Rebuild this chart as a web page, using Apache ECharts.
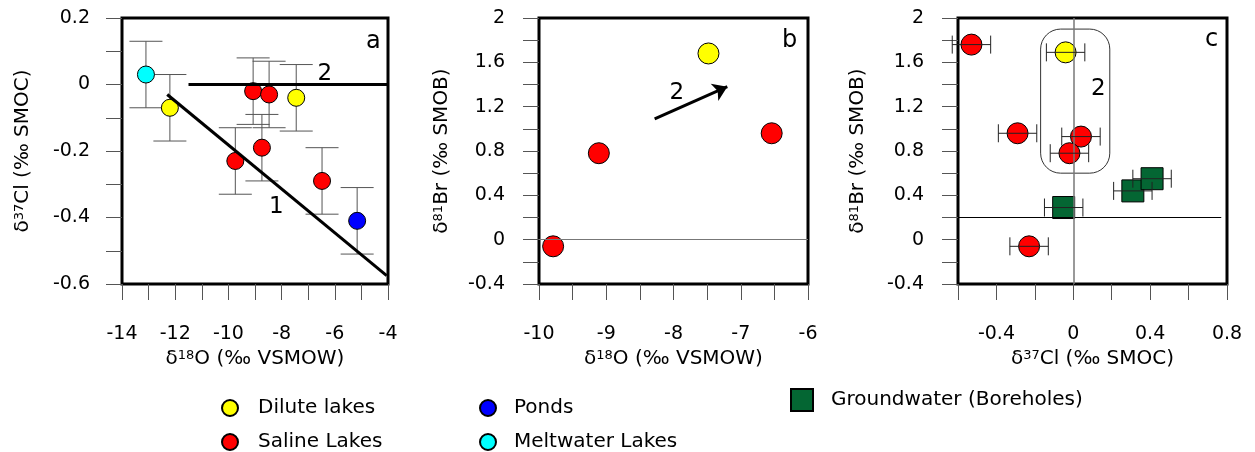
<!DOCTYPE html>
<html>
<head>
<meta charset="utf-8">
<script src="https://cdn.jsdelivr.net/npm/echarts@6/dist/echarts.min.js"></script>
<style>html,body{margin:0;background:#fff}#main{width:1255px;height:452px}</style>
</head>
<body>
<div id="main"></div>
<script>
var FONT = '"DejaVu Sans", sans-serif';

// panel a : d18O vs d37Cl
var aDiluteO = [-12.2, -7.45];
var aDiluteCl = [-0.07, -0.04];
var aSalineO = [-9.07, -8.47, -9.74, -8.74, -6.48];
var aSalineCl = [-0.02, -0.03, -0.23, -0.19, -0.29];
var aPondsO = [-5.16];
var aPondsCl = [-0.41];
var aMeltO = [-13.1];
var aMeltCl = [0.03];
var clErr = 0.1;
var line1O = [-12.3, -4.05], line1Cl = [-0.03, -0.575];
var line2O = [-11.5, -4], line2Cl = [0, 0];
var aNoteO = [-8.2, -6.38], aNoteCl = [-0.37, 0.03], aNoteText = ['1', '2'];

// panel b : d18O vs d81Br
var bDiluteO = [-7.48];
var bDiluteBr = [1.68];
var bSalineO = [-9.79, -9.11, -6.54];
var bSalineBr = [-0.06, 0.78, 0.96];
var bArrowO = [-8.28, -7.2], bArrowBr = [1.09, 1.38];
var bNoteO = [-7.95], bNoteBr = [1.32], bNoteText = ['2'];

// panel c : d37Cl vs d81Br
var cDiluteCl = [-0.04];
var cDiluteBr = [1.69];
var cSalineCl = [-0.53, -0.29, 0.04, -0.02, -0.23];
var cSalineBr = [1.76, 0.96, 0.93, 0.78, -0.06];
var cGroundCl = [-0.05, 0.31, 0.41];
var cGroundBr = [0.29, 0.44, 0.55];
var cBox = [-0.17, 0.6, 0.19, 1.9];
var cNoteCl = [0.13], cNoteBr = [1.36], cNoteText = ['2'];

// axis ticks and labels
var aXLabels = [-14, -12, -10, -8, -6, -4];
var aYLabels = [-0.6, -0.4, -0.2, 0, 0.2];
var bXLabels = [-10, -9, -8, -7, -6];
var brLabels = [-0.4, 0, 0.4, 0.8, 1.2, 1.6, 2];
var cXLabels = [-0.4, 0, 0.4, 0.8];

function pts(xs, ys) {
    return xs.map(function (x, i) { return [x, ys[i]]; });
}

function labelFmt(labels) {
    return function (v) {
        for (var i = 0; i < labels.length; i++) {
            if (Math.abs(v - labels[i]) < 1e-6) return String(labels[i]);
        }
        return '';
    };
}

var nameStyle = {
    fontSize: 20, fontFamily: FONT, color: '#000',
    rich: { s: { fontSize: 13, fontFamily: FONT, color: '#000', verticalAlign: 'top' } }
};

function axis(g, min, max, step, labels, name, gap, margin) {
    return {
        type: 'value', gridIndex: g, min: min, max: max, interval: step,
        name: name, nameLocation: 'middle', nameGap: gap, nameTextStyle: nameStyle,
        nameMoveOverlap: false,
        axisLine: { show: false, onZero: false },
        splitLine: { show: false },
        axisTick: { show: true, inside: false, length: 16, lineStyle: { color: '#555' } },
        axisLabel: { margin: margin, fontSize: 19, fontFamily: FONT, color: '#000',
            formatter: labelFmt(labels) }
    };
}

function dots(name, g, xs, ys, color, size, symbol) {
    return {
        name: name, type: 'scatter', xAxisIndex: g, yAxisIndex: g, silent: true,
        data: pts(xs, ys), symbol: symbol || 'circle', symbolSize: size, z: 3,
        itemStyle: { color: color, borderColor: '#000', borderWidth: 1, opacity: 1 }
    };
}

function vErr(g, xs, ys, cap) {
    return {
        type: 'custom', xAxisIndex: g, yAxisIndex: g, silent: true, z: 2,
        data: xs.map(function (x, i) { return [x, ys[i] - clErr, ys[i] + clErr]; }),
        encode: { x: 0, y: [1, 2] },
        renderItem: function (params, api) {
            var x = api.value(0);
            var lo = api.coord([x, api.value(1)]), hi = api.coord([x, api.value(2)]);
            var h = cap / 2, st = { stroke: '#555', lineWidth: 1 };
            return { type: 'group', children: [
                { type: 'line', shape: { x1: lo[0], y1: lo[1], x2: hi[0], y2: hi[1] }, style: st },
                { type: 'line', shape: { x1: lo[0] - h, y1: lo[1], x2: lo[0] + h, y2: lo[1] }, style: st },
                { type: 'line', shape: { x1: hi[0] - h, y1: hi[1], x2: hi[0] + h, y2: hi[1] }, style: st }
            ] };
        }
    };
}

function hErr(g, xs, ys, cap) {
    return {
        type: 'custom', xAxisIndex: g, yAxisIndex: g, silent: true, z: 5,
        data: xs.map(function (x, i) { return [x - clErr, x + clErr, ys[i]]; }),
        encode: { x: [0, 1], y: 2 },
        renderItem: function (params, api) {
            var y = api.value(2);
            var lo = api.coord([api.value(0), y]), hi = api.coord([api.value(1), y]);
            var h = cap / 2, st = { stroke: '#222', lineWidth: 1 };
            return { type: 'group', children: [
                { type: 'line', shape: { x1: lo[0], y1: lo[1], x2: hi[0], y2: hi[1] }, style: st },
                { type: 'line', shape: { x1: lo[0], y1: lo[1] - h, x2: lo[0], y2: lo[1] + h }, style: st },
                { type: 'line', shape: { x1: hi[0], y1: hi[1] - h, x2: hi[0], y2: hi[1] + h }, style: st }
            ] };
        }
    };
}

function notes(g, xs, ys, texts) {
    return {
        type: 'custom', xAxisIndex: g, yAxisIndex: g, silent: true, z: 6,
        data: pts(xs, ys), encode: { x: 0, y: 1 },
        renderItem: function (params, api) {
            var p = api.coord([api.value(0), api.value(1)]);
            return { type: 'text', x: p[0], y: p[1], style: {
                text: texts[params.dataIndex], fontSize: 23, fontFamily: FONT,
                fill: '#000', align: 'center', verticalAlign: 'middle' } };
        }
    };
}

function fitLine(g, xs, ys) {
    return {
        type: 'line', xAxisIndex: g, yAxisIndex: g, silent: true, z: 4,
        data: pts(xs, ys), symbol: 'none',
        lineStyle: { color: '#000', width: 3 }
    };
}

var legendText = { fontSize: 20, fontFamily: FONT, color: '#000' };

var myChart = echarts.init(document.getElementById('main'));

var option = {
    animation: false,
    backgroundColor: '#fff',
    grid: [
        { left: 122, top: 18, width: 266, height: 266, show: true, borderColor: '#000', borderWidth: 3 },
        { left: 539, top: 18, width: 269, height: 266, show: true, borderColor: '#000', borderWidth: 3 },
        { left: 958, top: 18, width: 269, height: 266, show: true, borderColor: '#000', borderWidth: 3 }
    ],
    xAxis: [
        axis(0, -14, -4, 1, aXLabels, 'δ{s|18}O (‰ VSMOW)', 65, 41),
        axis(1, -10, -6, 0.5, bXLabels, 'δ{s|18}O (‰ VSMOW)', 65, 41),
        axis(2, -0.6, 0.8, 0.2, cXLabels, 'δ{s|37}Cl (‰ SMOC)', 65, 41)
    ],
    yAxis: [
        axis(0, -0.6, 0.2, 0.1, aYLabels, 'δ{s|37}Cl (‰ SMOC)', 89, 32),
        axis(1, -0.4, 2, 0.2, brLabels, 'δ{s|81}Br (‰ SMOB)', 87, 34),
        axis(2, -0.4, 2, 0.2, brLabels, 'δ{s|81}Br (‰ SMOB)', 90, 34)
    ],
    legend: [
        { left: 221, top: 398, orient: 'vertical', padding: 0, itemWidth: 16, itemHeight: 16, itemGap: 14,
          selectedMode: false,
          data: [{ name: 'Dilute lakes', icon: 'circle' }, { name: 'Saline Lakes', icon: 'circle' }],
          textStyle: Object.assign({ padding: [0, 0, 0, 15] }, legendText) },
        { left: 479, top: 398, orient: 'vertical', padding: 0, itemWidth: 16, itemHeight: 16, itemGap: 14,
          selectedMode: false,
          data: [{ name: 'Ponds', icon: 'circle' }, { name: 'Meltwater Lakes', icon: 'circle' }],
          textStyle: Object.assign({ padding: [0, 0, 0, 13] }, legendText) },
        { left: 790, top: 388, orient: 'vertical', padding: 0, itemWidth: 22, itemHeight: 22,
          selectedMode: false,
          data: [{ name: 'Groundwater (Boreholes)', icon: 'rect' }],
          textStyle: Object.assign({ padding: [0, 0, 0, 13] }, legendText) }
    ],
    graphic: [
        { type: 'text', left: 366, top: 30, style: { text: 'a', fontSize: 24, fontFamily: FONT, fill: '#000' } },
        { type: 'text', left: 782, top: 29, style: { text: 'b', fontSize: 24, fontFamily: FONT, fill: '#000' } },
        { type: 'text', left: 1205, top: 28, style: { text: 'c', fontSize: 24, fontFamily: FONT, fill: '#000' } }
    ],
    series: [
        // panel a
        vErr(0, aDiluteO.concat(aSalineO, aPondsO, aMeltO), aDiluteCl.concat(aSalineCl, aPondsCl, aMeltCl), 33),
        fitLine(0, line1O, line1Cl),
        fitLine(0, line2O, line2Cl),
        dots('Dilute lakes', 0, aDiluteO, aDiluteCl, '#ffff00', 17),
        dots('Saline Lakes', 0, aSalineO, aSalineCl, '#ff0000', 17),
        dots('Ponds', 0, aPondsO, aPondsCl, '#0000ff', 17),
        dots('Meltwater Lakes', 0, aMeltO, aMeltCl, '#00ffff', 17),
        notes(0, aNoteO, aNoteCl, aNoteText),
        // panel b
        {
            type: 'line', xAxisIndex: 1, yAxisIndex: 1, data: [], silent: true, z: 1,
            markLine: { silent: true, symbol: 'none', label: { show: false },
                lineStyle: { color: '#777', width: 1, type: 'solid' }, data: [{ yAxis: 0 }] }
        },
        {
            type: 'line', xAxisIndex: 1, yAxisIndex: 1, data: [], silent: true, z: 4,
            markLine: { silent: true, symbol: ['none', 'arrow'], symbolSize: 14, label: { show: false },
                lineStyle: { color: '#000', width: 3, type: 'solid' },
                data: [[{ coord: [bArrowO[0], bArrowBr[0]] }, { coord: [bArrowO[1], bArrowBr[1]] }]] }
        },
        dots('Saline Lakes', 1, bSalineO, bSalineBr, '#ff0000', 21),
        dots('Dilute lakes', 1, bDiluteO, bDiluteBr, '#ffff00', 21),
        notes(1, bNoteO, bNoteBr, bNoteText),
        // panel c
        {
            type: 'custom', xAxisIndex: 2, yAxisIndex: 2, silent: true, z: 2,
            data: [cBox], encode: { x: [0, 2], y: [1, 3] },
            renderItem: function (params, api) {
                var p0 = api.coord([api.value(0), api.value(3)]);
                var p1 = api.coord([api.value(2), api.value(1)]);
                return { type: 'rect', shape: { x: p0[0], y: p0[1], width: p1[0] - p0[0],
                    height: p1[1] - p0[1], r: 20 }, style: { fill: 'none', stroke: '#333', lineWidth: 1 } };
            }
        },
        {
            type: 'line', xAxisIndex: 2, yAxisIndex: 2, data: [], silent: true, z: 1,
            markLine: { silent: true, symbol: 'none', label: { show: false },
                lineStyle: { color: '#000', width: 1, type: 'solid' },
                data: [[{ coord: [-0.6, 0.2] }, { coord: [0.77, 0.2] }]] }
        },
        dots('Saline Lakes', 2, cSalineCl, cSalineBr, '#ff0000', 21),
        dots('Dilute lakes', 2, cDiluteCl, cDiluteBr, '#ffff00', 21),
        dots('Groundwater (Boreholes)', 2, cGroundCl, cGroundBr, '#046633', 22, 'rect'),
        hErr(2, cSalineCl.concat(cDiluteCl, cGroundCl), cSalineBr.concat(cDiluteBr, cGroundBr), 18),
        {
            type: 'line', xAxisIndex: 2, yAxisIndex: 2, data: [], silent: true, z: 6,
            markLine: { silent: true, symbol: 'none', label: { show: false },
                lineStyle: { color: '#777', width: 1.5, type: 'solid' }, data: [{ xAxis: 0 }] }
        },
        notes(2, cNoteCl, cNoteBr, cNoteText)
    ]
};
myChart.setOption(option);
</script>
</body>
</html>
